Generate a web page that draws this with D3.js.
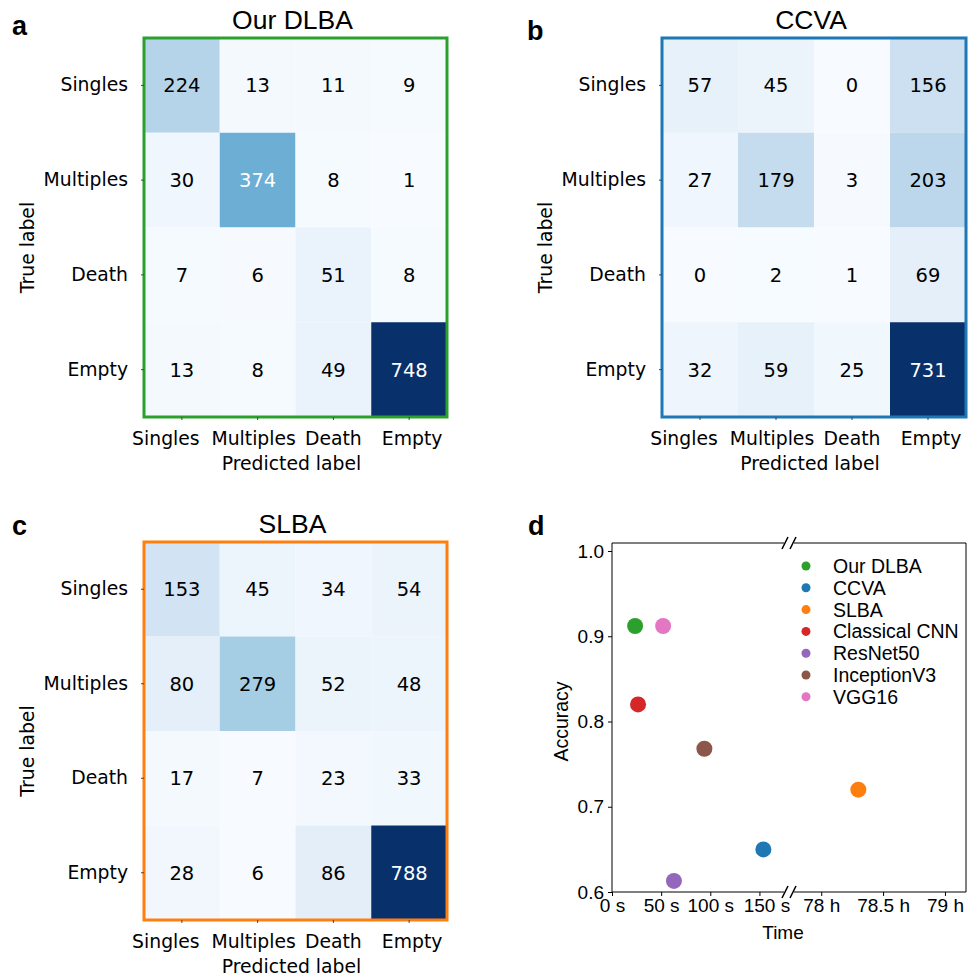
<!DOCTYPE html>
<html>
<head>
<meta charset="utf-8">
<script src="https://cdn.jsdelivr.net/npm/d3@7"></script>
<style>
  body { margin: 0; background: #fff; }
  svg { display: block; }
  .cm text { font-family: "DejaVu Sans", sans-serif; }
  .sc text { font-family: "Liberation Sans", Arial, sans-serif; }
</style>
</head>
<body>
<svg id="fig" width="968" height="977"></svg>
<script>
// class labels shared by all three confusion matrices
var classes = ["Singles", "Multiples", "Death", "Empty"];

// confusion matrices (rows = true label, cols = predicted label)
var cmDLBA = [[224, 13, 11, 9], [30, 374, 8, 1], [7, 6, 51, 8], [13, 8, 49, 748]];
var cmCCVA = [[57, 45, 0, 156], [27, 179, 3, 203], [0, 2, 1, 69], [32, 59, 25, 731]];
var cmSLBA = [[153, 45, 34, 54], [80, 279, 52, 48], [17, 7, 23, 33], [28, 6, 86, 788]];

// panel d: accuracy vs. time
var methods = ["Our DLBA", "CCVA", "SLBA", "Classical CNN", "ResNet50", "InceptionV3", "VGG16"];
var methodColors = ["#2ca02c", "#1f77b4", "#ff7f0e", "#d62728", "#9467bd", "#8c564b", "#e377c2"];
var timeValues = [23.5, 154, 78.3, 26.5, 63, 94, 52];
var timeUnits = ["s", "s", "h", "s", "s", "s", "s"];
var accuracies = [0.912, 0.650, 0.720, 0.820, 0.613, 0.768, 0.912];
var secTicks = [0, 50, 100, 150];
var hourTicks = [78, 78.5, 79];
var accTicks = [0.6, 0.7, 0.8, 0.9, 1.0];

var svg = d3.select("#fig");

// draw one confusion matrix panel
function drawMatrix(cm, opts) {
    var g = svg.append("g").attr("class", "cm");
    var x = d3.scaleBand().domain(classes).range([opts.x0, opts.x1]);
    var y = d3.scaleBand().domain(classes).range([opts.y0, opts.y1]);
    var flat = d3.merge(cm);
    var vmin = d3.min(flat), vmax = d3.max(flat);
    var color = d3.scaleSequential(d3.interpolateBlues).domain([vmin, vmax]);

    var cells = [];
    cm.forEach(function (row, i) {
        row.forEach(function (v, j) {
            cells.push({ t: classes[i], p: classes[j], v: v });
        });
    });

    g.selectAll("rect.cell").data(cells).enter().append("rect")
        .attr("class", "cell")
        .attr("x", function (d) { return x(d.p); })
        .attr("y", function (d) { return y(d.t); })
        .attr("width", x.bandwidth())
        .attr("height", y.bandwidth())
        .attr("fill", function (d) { return color(d.v); });

    g.selectAll("text.val").data(cells).enter().append("text")
        .attr("class", "val")
        .attr("x", function (d) { return x(d.p) + x.bandwidth() / 2; })
        .attr("y", function (d) { return y(d.t) + y.bandwidth() / 2; })
        .attr("dy", "0.36em")
        .attr("text-anchor", "middle")
        .attr("font-size", 19.5)
        .attr("fill", function (d) { return d.v >= vmax / 2 ? "#fff" : "#000"; })
        .text(function (d) { return d.v; });

    // coloured frame
    g.append("rect")
        .attr("x", opts.x0).attr("y", opts.y0)
        .attr("width", opts.x1 - opts.x0).attr("height", opts.y1 - opts.y0)
        .attr("fill", "none").attr("stroke", opts.frame).attr("stroke-width", 3);

    // axes
    var ax = g.append("g").attr("transform", "translate(" + opts.x0 + ",0)")
        .call(d3.axisLeft(y).tickSize(3).tickPadding(13));
    var bx = g.append("g").attr("transform", "translate(0," + opts.y1 + ")")
        .call(d3.axisBottom(x).tickSize(3).tickPadding(12));
    [ax, bx].forEach(function (a) {
        a.select(".domain").remove();
        a.selectAll("text").attr("font-size", 18.8).attr("font-family", "DejaVu Sans").attr("fill", "#000");
        a.selectAll("line").attr("stroke", "#444");
    });
    // spread the crowded bottom labels a little, as in the original figure
    bx.selectAll(".tick text").attr("dx", function (d, i) { return [-16, -4, 0, 3][i]; });

    var cx = (opts.x0 + opts.x1) / 2;
    g.append("text").attr("x", cx - 4).attr("y", opts.y1 + 53)
        .attr("text-anchor", "middle").attr("font-size", 18.8).text("Predicted label");
    g.append("text")
        .attr("transform", "translate(" + (opts.x0 - 117) + "," + ((opts.y0 + opts.y1) / 2 + 20) + ") rotate(-90)")
        .attr("text-anchor", "middle").attr("dy", "0.35em").attr("font-size", 18.8).text("True label");

    svg.append("text").attr("x", cx - 3).attr("y", opts.y0 - 9)
        .attr("text-anchor", "middle").attr("font-family", "Liberation Sans, Arial")
        .attr("font-size", 26.5).text(opts.title);
}

drawMatrix(cmDLBA, { x0: 144, x1: 447, y0: 38, y1: 417, frame: "#2ca02c", title: "Our DLBA" });
drawMatrix(cmCCVA, { x0: 662, x1: 966, y0: 38, y1: 417, frame: "#1f77b4", title: "CCVA" });
drawMatrix(cmSLBA, { x0: 144, x1: 447, y0: 542, y1: 920, frame: "#ff7f0e", title: "SLBA" });

// panel letters
var letters = [["a", 12, 35], ["b", 527, 40], ["c", 12, 535], ["d", 528, 535]];
svg.selectAll("text.letter").data(letters).enter().append("text")
    .attr("class", "letter")
    .attr("x", function (d) { return d[1]; })
    .attr("y", function (d) { return d[2]; })
    .attr("font-family", "Liberation Sans, Arial").attr("font-weight", "bold")
    .attr("font-size", 27).text(function (d) { return d[0]; });

// ---- panel d: scatter with broken x axis ----
var sc = svg.append("g").attr("class", "sc");
var pLeft = 612, pRight = 966, pTop = 543, pBottom = 892, brk = 789;
var xs = d3.scaleLinear().domain([0, 175]).range([pLeft, brk - 5]);
var xh = d3.scaleLinear().domain([77.78, 79.17]).range([brk + 5, pRight]);
var ys = d3.scaleLinear().domain([0.6, 1.0]).range([pBottom, 551]);

function xPos(i) {
    return timeUnits[i] === "h" ? xh(timeValues[i]) : xs(timeValues[i]);
}

// spines
var spine = sc.append("g").attr("stroke", "#000").attr("stroke-width", 1).attr("fill", "none");
spine.append("line").attr("x1", pLeft).attr("x2", pLeft).attr("y1", pTop).attr("y2", pBottom);
spine.append("line").attr("x1", pRight).attr("x2", pRight).attr("y1", pTop).attr("y2", pBottom);
[pTop, pBottom].forEach(function (yy) {
    spine.append("line").attr("x1", pLeft).attr("x2", brk - 5).attr("y1", yy).attr("y2", yy);
    spine.append("line").attr("x1", brk + 5).attr("x2", pRight).attr("y1", yy).attr("y2", yy);
    // break marks
    [-4, 4].forEach(function (o) {
        spine.append("line").attr("x1", brk + o - 3).attr("x2", brk + o + 3)
            .attr("y1", yy + 6).attr("y2", yy - 6).attr("stroke-width", 1.6);
    });
});

function styleAxis(a) {
    a.select(".domain").remove();
    a.selectAll("text").attr("font-size", 19).attr("fill", "#000");
    a.selectAll("line").attr("stroke", "#000");
}

sc.append("g").attr("transform", "translate(" + pLeft + ",0)")
    .call(d3.axisLeft(ys).tickValues(accTicks).tickFormat(d3.format(".1f")).tickSize(4).tickPadding(4))
    .call(styleAxis);
var secAxis = sc.append("g").attr("transform", "translate(0," + pBottom + ")")
    .call(d3.axisBottom(xs).tickValues(secTicks).tickFormat(function (d) { return d + " s"; }).tickSize(4).tickPadding(3))
    .call(styleAxis);
secAxis.selectAll(".tick text").attr("dx", function (d) { return d === 150 ? 7 : 0; });
sc.append("g").attr("transform", "translate(0," + pBottom + ")")
    .call(d3.axisBottom(xh).tickValues(hourTicks).tickFormat(function (d) { return d + " h"; }).tickSize(4).tickPadding(3))
    .call(styleAxis);

sc.append("text").attr("x", 783).attr("y", 939).attr("text-anchor", "middle")
    .attr("font-size", 19).text("Time");
sc.append("text").attr("transform", "translate(561," + ((pTop + pBottom) / 2 + 4) + ") rotate(-90)")
    .attr("text-anchor", "middle").attr("dy", "0.35em").attr("font-size", 19.5).text("Accuracy");

// points
sc.selectAll("circle.pt").data(methods).enter().append("circle")
    .attr("class", "pt")
    .attr("cx", function (d, i) { return xPos(i); })
    .attr("cy", function (d, i) { return ys(accuracies[i]); })
    .attr("r", 8)
    .attr("fill", function (d, i) { return methodColors[i]; });

// legend
var leg = sc.append("g").attr("transform", "translate(806,566)");
var row = leg.selectAll("g").data(methods).enter().append("g")
    .attr("transform", function (d, i) { return "translate(0," + i * 21.8 + ")"; });
row.append("circle").attr("r", 4.5).attr("fill", function (d, i) { return methodColors[i]; });
row.append("text").attr("x", 27).attr("dy", "0.36em").attr("font-size", 19.5).text(function (d) { return d; });
</script>
</body>
</html>
